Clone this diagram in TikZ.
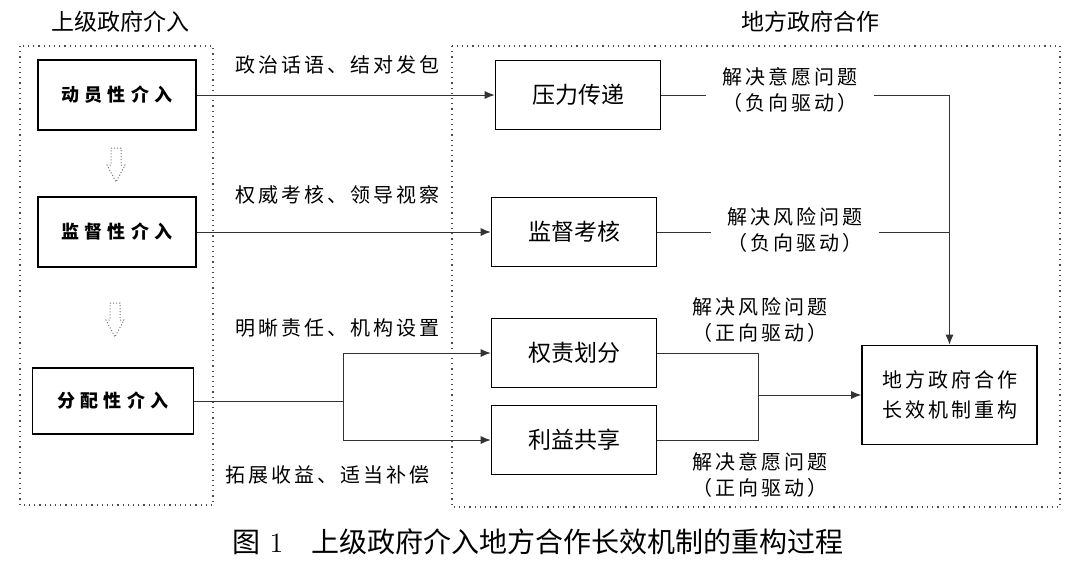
\documentclass[tikz,border=0pt]{standalone}
\usepackage{fontspec}
\newfontfamily\cjk{Noto Sans CJK SC}
\newfontfamily\cjkwide[LetterSpace=15]{Noto Sans CJK SC}
\newfontfamily\cjkwider[LetterSpace=28]{Noto Sans CJK SC}
\usetikzlibrary{arrows.meta}
\tikzset{
  head/.style={font=\cjk\fontsize{11.5pt}{14pt}\selectfont},
  lbox/.style={draw, line width=0.8pt, minimum width=79pt, minimum height=35pt,
    font=\cjkwider\bfseries\fontsize{9pt}{11pt}\selectfont},
  rbox/.style={draw, line width=0.8pt, minimum width=82.5pt, minimum height=34.5pt,
    font=\cjk\fontsize{11.5pt}{14pt}\selectfont},
  note/.style={align=center, inner sep=8pt,
    font=\cjkwide\fontsize{10pt}{13pt}\selectfont},
  frame/.style={draw, dotted, line width=0.6pt, black!70},
  hollow/.style={draw, densely dotted, line width=0.5pt, black!55},
  link/.style={line width=0.5pt, black!80},
  tip/.style={-{Latex[length=5pt,width=4pt]}}
}
\begin{document}
\begin{tikzpicture}[x=0.5pt, y=-0.5pt]
  \useasboundingbox (0,0) rectangle (1080,568);
  \draw[frame] (20,46) rectangle (213,505);
  \draw[frame] (452,46) rectangle (1060,507);
  \draw
    (120,22) node[head] (t1){上级政府介入}
    (810,22) node[head] (t2){地方政府合作}
    (117,95) node[lbox] (l1){动员性介入}
    (117,232) node[lbox] (l2){监督性介入}
    (113,401) node[lbox, minimum width=80.5pt, minimum height=33pt] (l3){分配性介入}
    (578,95) node[rbox] (r1){压力传递}
    (574,232) node[rbox] (r2){监督考核}
    (574,353) node[rbox] (r3){权责划分}
    (574,440) node[rbox] (r4){利益共享}
    (949.5,395) node[draw, line width=0.8pt, minimum width=87.5pt, minimum height=49.5pt,
      align=center, font=\cjkwide\fontsize{10pt}{15pt}\selectfont] (g){地方政府合作\\长效机制重构};
  \draw
    (337,65) node[note] (a1){政治话语、结对发包}
    (337,195) node[note] (a2){权威考核、领导视察}
    (337,328) node[note] (a3){明晰责任、机构设置}
    (327,475) node[note] (a4){拓展收益、适当补偿}
    (790,90) node[note] (a5){解决意愿问题\\（负向驱动）}
    (795,230) node[note] (a6){解决风险问题\\（负向驱动）}
    (760,320) node[note] (a7){解决风险问题\\（正向驱动）}
    (760,475) node[note] (a8){解决意愿问题\\（正向驱动）};
  \node[font=\fontsize{14pt}{16pt}\selectfont] (cap) at (538,542)
    {{\cjk 图} 1\quad{\cjk 上级政府介入地方合作长效机制的重构过程}};
  \coordinate (fk) at (343,401);
  \coordinate (mg) at (758,395);
  % hollow arrows
  \draw[hollow] (116,165) ++(-5,-17) -- ++(10,0) -- ++(0,17) -- ++(4,0)
    -- ++(-9,17) -- ++(-9,-17) -- ++(4,0) -- cycle;
  \draw[hollow] (115,320) ++(-5,-17) -- ++(10,0) -- ++(0,17) -- ++(4,0)
    -- ++(-9,17) -- ++(-9,-17) -- ++(4,0) -- cycle;
  \begin{scope}[link]
    \draw (l3) -- (fk);
    \draw (fk |- r3) -- (fk |- r4);
    \draw (r1) -- (r1 -| a5.west);
    \draw (r2) -- (r2 -| a6.west);
    \draw (a6.east |- r2) -- (r2 -| g);
    \draw (r3) -- (r3 -| mg) -- (r4 -| mg) -- (r4);
  \end{scope}
  \begin{scope}[link, tip]
    \draw (l1) -- (r1);
    \draw (l2) -- (r2);
    \draw (fk |- r3) -- (r3);
    \draw (fk |- r4) -- (r4);
    \draw (a5.east |- r1) -- (r1 -| g) -- (g);
    \draw (mg) -- (g);
  \end{scope}
\end{tikzpicture}
\end{document}
